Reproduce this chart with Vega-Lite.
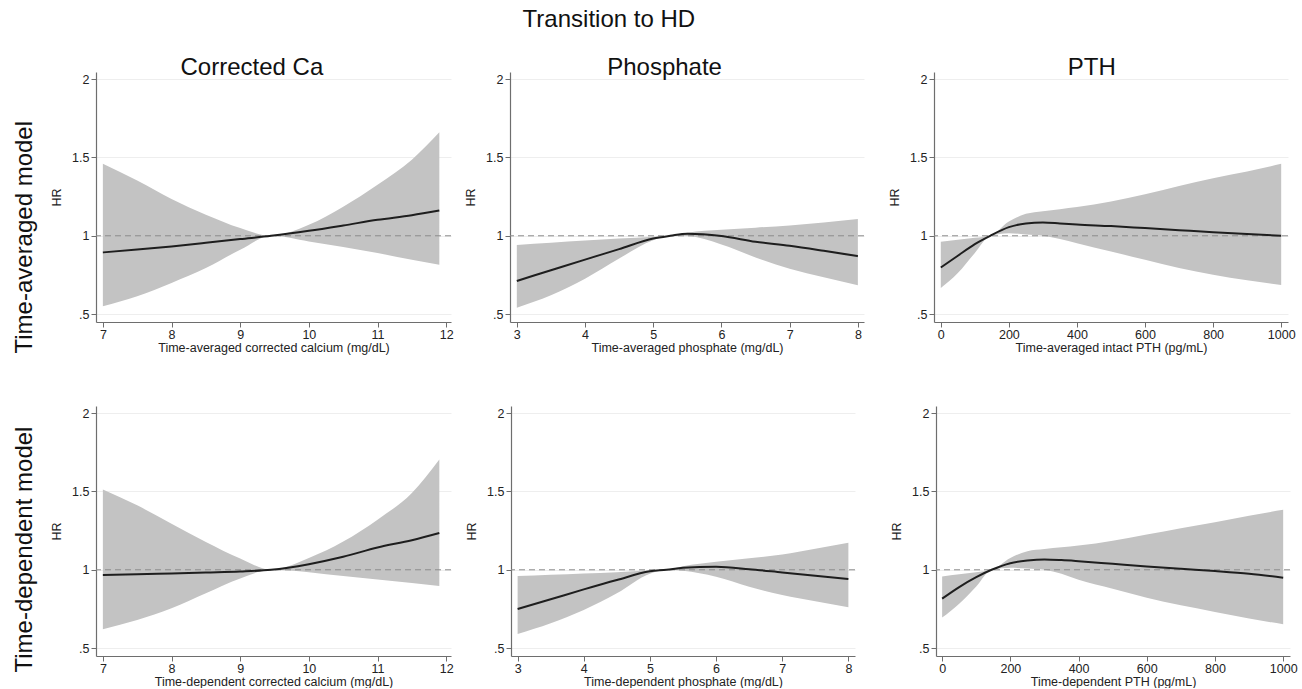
{
  "$schema": "https://vega.github.io/schema/vega-lite/v6.json",
  "padding": {"left": 12, "top": 8, "right": 0, "bottom": 0},
  "background": "white",
  "title": {"text": "Transition to HD", "fontSize": 24, "anchor": "middle", "frame": "bounds", "dx": -46, "offset": 24},
  "data": {"values": [
    {"m": "A", "v": "Ca", "x": 7.0, "hr": 0.894, "lo": 0.55, "hi": 1.459},
    {"m": "A", "v": "Ca", "x": 7.5, "hr": 0.912, "lo": 0.614, "hi": 1.352},
    {"m": "A", "v": "Ca", "x": 8.0, "hr": 0.932, "lo": 0.699, "hi": 1.234},
    {"m": "A", "v": "Ca", "x": 8.5, "hr": 0.955, "lo": 0.794, "hi": 1.134},
    {"m": "A", "v": "Ca", "x": 9.0, "hr": 0.979, "lo": 0.911, "hi": 1.049},
    {"m": "A", "v": "Ca", "x": 9.45, "hr": 1.0, "lo": 1.0, "hi": 1.0},
    {"m": "A", "v": "Ca", "x": 10.0, "hr": 1.032, "lo": 0.964, "hi": 1.07},
    {"m": "A", "v": "Ca", "x": 10.5, "hr": 1.066, "lo": 0.928, "hi": 1.185},
    {"m": "A", "v": "Ca", "x": 11.0, "hr": 1.102, "lo": 0.89, "hi": 1.325},
    {"m": "A", "v": "Ca", "x": 11.5, "hr": 1.131, "lo": 0.847, "hi": 1.485},
    {"m": "A", "v": "Ca", "x": 11.9, "hr": 1.161, "lo": 0.815, "hi": 1.66},

    {"m": "A", "v": "P", "x": 3.0, "hr": 0.712, "lo": 0.541, "hi": 0.942},
    {"m": "A", "v": "P", "x": 3.5, "hr": 0.78, "lo": 0.62, "hi": 0.956},
    {"m": "A", "v": "P", "x": 4.0, "hr": 0.848, "lo": 0.726, "hi": 0.97},
    {"m": "A", "v": "P", "x": 4.5, "hr": 0.915, "lo": 0.855, "hi": 0.982},
    {"m": "A", "v": "P", "x": 5.0, "hr": 0.983, "lo": 0.972, "hi": 0.994},
    {"m": "A", "v": "P", "x": 5.25, "hr": 1.0, "lo": 1.0, "hi": 1.0},
    {"m": "A", "v": "P", "x": 5.5, "hr": 1.013, "lo": 0.998, "hi": 1.02},
    {"m": "A", "v": "P", "x": 6.0, "hr": 0.998, "lo": 0.945, "hi": 1.038},
    {"m": "A", "v": "P", "x": 6.5, "hr": 0.962, "lo": 0.862, "hi": 1.052},
    {"m": "A", "v": "P", "x": 7.0, "hr": 0.936, "lo": 0.79, "hi": 1.066},
    {"m": "A", "v": "P", "x": 7.5, "hr": 0.904, "lo": 0.735, "hi": 1.085},
    {"m": "A", "v": "P", "x": 8.0, "hr": 0.87, "lo": 0.684, "hi": 1.107},

    {"m": "A", "v": "PTH", "x": 0, "hr": 0.798, "lo": 0.667, "hi": 0.962},
    {"m": "A", "v": "PTH", "x": 50, "hr": 0.873, "lo": 0.762, "hi": 0.975},
    {"m": "A", "v": "PTH", "x": 100, "hr": 0.947, "lo": 0.89, "hi": 0.987},
    {"m": "A", "v": "PTH", "x": 145, "hr": 1.0, "lo": 1.0, "hi": 1.0},
    {"m": "A", "v": "PTH", "x": 200, "hr": 1.055, "lo": 1.017, "hi": 1.091},
    {"m": "A", "v": "PTH", "x": 250, "hr": 1.079, "lo": 1.008, "hi": 1.14},
    {"m": "A", "v": "PTH", "x": 300, "hr": 1.085, "lo": 1.0, "hi": 1.157},
    {"m": "A", "v": "PTH", "x": 350, "hr": 1.079, "lo": 0.979, "hi": 1.17},
    {"m": "A", "v": "PTH", "x": 400, "hr": 1.072, "lo": 0.953, "hi": 1.183},
    {"m": "A", "v": "PTH", "x": 500, "hr": 1.062, "lo": 0.9, "hi": 1.219},
    {"m": "A", "v": "PTH", "x": 600, "hr": 1.049, "lo": 0.847, "hi": 1.265},
    {"m": "A", "v": "PTH", "x": 700, "hr": 1.036, "lo": 0.794, "hi": 1.318},
    {"m": "A", "v": "PTH", "x": 800, "hr": 1.023, "lo": 0.752, "hi": 1.367},
    {"m": "A", "v": "PTH", "x": 900, "hr": 1.011, "lo": 0.716, "hi": 1.41},
    {"m": "A", "v": "PTH", "x": 1000, "hr": 1.0, "lo": 0.686, "hi": 1.459},

    {"m": "D", "v": "Ca", "x": 7.0, "hr": 0.966, "lo": 0.621, "hi": 1.513},
    {"m": "D", "v": "Ca", "x": 7.5, "hr": 0.971, "lo": 0.68, "hi": 1.411},
    {"m": "D", "v": "Ca", "x": 8.0, "hr": 0.977, "lo": 0.754, "hi": 1.294},
    {"m": "D", "v": "Ca", "x": 8.5, "hr": 0.983, "lo": 0.85, "hi": 1.178},
    {"m": "D", "v": "Ca", "x": 9.0, "hr": 0.989, "lo": 0.945, "hi": 1.072},
    {"m": "D", "v": "Ca", "x": 9.45, "hr": 1.0, "lo": 1.0, "hi": 1.0},
    {"m": "D", "v": "Ca", "x": 10.0, "hr": 1.036, "lo": 0.985, "hi": 1.075},
    {"m": "D", "v": "Ca", "x": 10.5, "hr": 1.083, "lo": 0.96, "hi": 1.18},
    {"m": "D", "v": "Ca", "x": 11.0, "hr": 1.142, "lo": 0.938, "hi": 1.32},
    {"m": "D", "v": "Ca", "x": 11.5, "hr": 1.189, "lo": 0.915, "hi": 1.49},
    {"m": "D", "v": "Ca", "x": 11.9, "hr": 1.235, "lo": 0.896, "hi": 1.703},

    {"m": "D", "v": "P", "x": 3.0, "hr": 0.75, "lo": 0.591, "hi": 0.96},
    {"m": "D", "v": "P", "x": 3.5, "hr": 0.812, "lo": 0.659, "hi": 0.968},
    {"m": "D", "v": "P", "x": 4.0, "hr": 0.875, "lo": 0.744, "hi": 0.977},
    {"m": "D", "v": "P", "x": 4.5, "hr": 0.935, "lo": 0.85, "hi": 0.985},
    {"m": "D", "v": "P", "x": 5.0, "hr": 0.99, "lo": 0.975, "hi": 0.997},
    {"m": "D", "v": "P", "x": 5.25, "hr": 1.0, "lo": 1.0, "hi": 1.0},
    {"m": "D", "v": "P", "x": 5.5, "hr": 1.013, "lo": 0.994, "hi": 1.023},
    {"m": "D", "v": "P", "x": 6.0, "hr": 1.019, "lo": 0.956, "hi": 1.051},
    {"m": "D", "v": "P", "x": 6.5, "hr": 1.004, "lo": 0.892, "hi": 1.074},
    {"m": "D", "v": "P", "x": 7.0, "hr": 0.983, "lo": 0.839, "hi": 1.097},
    {"m": "D", "v": "P", "x": 7.5, "hr": 0.962, "lo": 0.8, "hi": 1.134},
    {"m": "D", "v": "P", "x": 8.0, "hr": 0.941, "lo": 0.761, "hi": 1.172},

    {"m": "D", "v": "PTH", "x": 0, "hr": 0.816, "lo": 0.695, "hi": 0.958},
    {"m": "D", "v": "PTH", "x": 50, "hr": 0.89, "lo": 0.784, "hi": 0.972},
    {"m": "D", "v": "PTH", "x": 100, "hr": 0.953, "lo": 0.894, "hi": 0.985},
    {"m": "D", "v": "PTH", "x": 145, "hr": 1.0, "lo": 1.0, "hi": 1.0},
    {"m": "D", "v": "PTH", "x": 200, "hr": 1.042, "lo": 1.013, "hi": 1.076},
    {"m": "D", "v": "PTH", "x": 250, "hr": 1.059, "lo": 1.008, "hi": 1.119},
    {"m": "D", "v": "PTH", "x": 300, "hr": 1.066, "lo": 1.0, "hi": 1.133},
    {"m": "D", "v": "PTH", "x": 350, "hr": 1.062, "lo": 0.975, "hi": 1.144},
    {"m": "D", "v": "PTH", "x": 400, "hr": 1.055, "lo": 0.936, "hi": 1.155},
    {"m": "D", "v": "PTH", "x": 500, "hr": 1.038, "lo": 0.879, "hi": 1.186},
    {"m": "D", "v": "PTH", "x": 600, "hr": 1.021, "lo": 0.822, "hi": 1.225},
    {"m": "D", "v": "PTH", "x": 700, "hr": 1.006, "lo": 0.773, "hi": 1.265},
    {"m": "D", "v": "PTH", "x": 800, "hr": 0.992, "lo": 0.731, "hi": 1.303},
    {"m": "D", "v": "PTH", "x": 900, "hr": 0.975, "lo": 0.689, "hi": 1.345},
    {"m": "D", "v": "PTH", "x": 1000, "hr": 0.949, "lo": 0.653, "hi": 1.383}
  ]},
  "spacing": 52,
  "vconcat": [
    {
      "title": {"text": "Time-averaged model", "orient": "left", "fontSize": 24, "offset": 14},
      "spacing": 10,
      "hconcat": [
        {
          "width": 355, "height": 250,
          "title": {"text": "Corrected Ca", "fontSize": 24, "frame": "bounds", "offset": -8},
          "transform": [{"filter": "datum.m == 'A' && datum.v == 'Ca'"}],
          "layer": [
            {"mark": {"type": "area", "color": "#c3c3c3", "interpolate": "monotone"},
             "encoding": {
               "x": {"field": "x", "type": "quantitative", "scale": {"domain": [6.9, 12.07], "nice": false, "zero": false},
                     "axis": {"title": "Time-averaged corrected calcium (mg/dL)", "values": [7, 8, 9, 10, 11, 12], "format": "d", "grid": false}},
               "y": {"field": "lo", "type": "quantitative", "scale": {"domain": [0.45, 2.045], "nice": false, "zero": false},
                     "axis": {"title": "HR", "values": [0.5, 1, 1.5, 2], "labelExpr": "datum.value == 0.5 ? '.5' : toString(datum.value)", "grid": true}},
               "y2": {"field": "hi"}}},
            {"data": {"values": [{}]}, "mark": {"type": "rule", "color": "#8c8c8c", "strokeDash": [6, 4], "strokeWidth": 1}, "encoding": {"y": {"datum": 1}}},
            {"mark": {"type": "line", "color": "#1e1e1e", "strokeWidth": 2, "interpolate": "monotone"},
             "encoding": {"x": {"field": "x", "type": "quantitative"}, "y": {"field": "hr", "type": "quantitative"}}}
          ]
        },
        {
          "spacing": 23,
          "hconcat": [
            {
              "width": 354, "height": 250,
              "title": {"text": "Phosphate", "fontSize": 24, "frame": "bounds", "offset": -8},
              "transform": [{"filter": "datum.m == 'A' && datum.v == 'P'"}],
              "layer": [
                {"mark": {"type": "area", "color": "#c3c3c3", "interpolate": "monotone"},
                 "encoding": {
                   "x": {"field": "x", "type": "quantitative", "scale": {"domain": [2.9, 8.09], "nice": false, "zero": false},
                         "axis": {"title": "Time-averaged phosphate (mg/dL)", "values": [3, 4, 5, 6, 7, 8], "format": "d", "grid": false}},
                   "y": {"field": "lo", "type": "quantitative", "scale": {"domain": [0.45, 2.045], "nice": false, "zero": false},
                         "axis": {"title": "HR", "values": [0.5, 1, 1.5, 2], "labelExpr": "datum.value == 0.5 ? '.5' : toString(datum.value)", "grid": true}},
                   "y2": {"field": "hi"}}},
                {"data": {"values": [{}]}, "mark": {"type": "rule", "color": "#8c8c8c", "strokeDash": [6, 4], "strokeWidth": 1}, "encoding": {"y": {"datum": 1}}},
                {"mark": {"type": "line", "color": "#1e1e1e", "strokeWidth": 2, "interpolate": "monotone"},
                 "encoding": {"x": {"field": "x", "type": "quantitative"}, "y": {"field": "hr", "type": "quantitative"}}}
              ]
            },
            {
              "width": 354, "height": 250,
              "title": {"text": "PTH", "fontSize": 24, "frame": "bounds", "offset": -8},
              "transform": [{"filter": "datum.m == 'A' && datum.v == 'PTH'"}],
              "layer": [
                {"mark": {"type": "area", "color": "#c3c3c3", "interpolate": "monotone"},
                 "encoding": {
                   "x": {"field": "x", "type": "quantitative", "scale": {"domain": [-20, 1020], "nice": false, "zero": false},
                         "axis": {"title": "Time-averaged intact PTH (pg/mL)", "values": [0, 200, 400, 600, 800, 1000], "format": "d", "grid": false}},
                   "y": {"field": "lo", "type": "quantitative", "scale": {"domain": [0.45, 2.045], "nice": false, "zero": false},
                         "axis": {"title": "HR", "values": [0.5, 1, 1.5, 2], "labelExpr": "datum.value == 0.5 ? '.5' : toString(datum.value)", "grid": true}},
                   "y2": {"field": "hi"}}},
                {"data": {"values": [{}]}, "mark": {"type": "rule", "color": "#8c8c8c", "strokeDash": [6, 4], "strokeWidth": 1}, "encoding": {"y": {"datum": 1}}},
                {"mark": {"type": "line", "color": "#1e1e1e", "strokeWidth": 2, "interpolate": "monotone"},
                 "encoding": {"x": {"field": "x", "type": "quantitative"}, "y": {"field": "hr", "type": "quantitative"}}}
              ]
            }
          ]
        }
      ]
    },
    {
      "title": {"text": "Time-dependent model", "orient": "left", "fontSize": 24, "offset": 14, "dx": 15},
      "spacing": 11,
      "hconcat": [
        {
          "width": 355, "height": 250,
          "transform": [{"filter": "datum.m == 'D' && datum.v == 'Ca'"}],
          "layer": [
            {"mark": {"type": "area", "color": "#c3c3c3", "interpolate": "monotone"},
             "encoding": {
               "x": {"field": "x", "type": "quantitative", "scale": {"domain": [6.9, 12.07], "nice": false, "zero": false},
                     "axis": {"title": "Time-dependent corrected calcium (mg/dL)", "values": [7, 8, 9, 10, 11, 12], "format": "d", "grid": false}},
               "y": {"field": "lo", "type": "quantitative", "scale": {"domain": [0.45, 2.045], "nice": false, "zero": false},
                     "axis": {"title": "HR", "values": [0.5, 1, 1.5, 2], "labelExpr": "datum.value == 0.5 ? '.5' : toString(datum.value)", "grid": true}},
               "y2": {"field": "hi"}}},
            {"data": {"values": [{}]}, "mark": {"type": "rule", "color": "#8c8c8c", "strokeDash": [6, 4], "strokeWidth": 1}, "encoding": {"y": {"datum": 1}}},
            {"mark": {"type": "line", "color": "#1e1e1e", "strokeWidth": 2, "interpolate": "monotone"},
             "encoding": {"x": {"field": "x", "type": "quantitative"}, "y": {"field": "hr", "type": "quantitative"}}}
          ]
        },
        {
          "spacing": 34,
          "hconcat": [
            {
              "width": 344, "height": 250,
              "transform": [{"filter": "datum.m == 'D' && datum.v == 'P'"}],
              "layer": [
                {"mark": {"type": "area", "color": "#c3c3c3", "interpolate": "monotone"},
                 "encoding": {
                   "x": {"field": "x", "type": "quantitative", "scale": {"domain": [2.9, 8.1], "nice": false, "zero": false},
                         "axis": {"title": "Time-dependent phosphate (mg/dL)", "values": [3, 4, 5, 6, 7, 8], "format": "d", "grid": false}},
                   "y": {"field": "lo", "type": "quantitative", "scale": {"domain": [0.45, 2.045], "nice": false, "zero": false},
                         "axis": {"title": "HR", "values": [0.5, 1, 1.5, 2], "labelExpr": "datum.value == 0.5 ? '.5' : toString(datum.value)", "grid": true}},
                   "y2": {"field": "hi"}}},
                {"data": {"values": [{}]}, "mark": {"type": "rule", "color": "#8c8c8c", "strokeDash": [6, 4], "strokeWidth": 1}, "encoding": {"y": {"datum": 1}}},
                {"mark": {"type": "line", "color": "#1e1e1e", "strokeWidth": 2, "interpolate": "monotone"},
                 "encoding": {"x": {"field": "x", "type": "quantitative"}, "y": {"field": "hr", "type": "quantitative"}}}
              ]
            },
            {
              "width": 354, "height": 250,
              "transform": [{"filter": "datum.m == 'D' && datum.v == 'PTH'"}],
              "layer": [
                {"mark": {"type": "area", "color": "#c3c3c3", "interpolate": "monotone"},
                 "encoding": {
                   "x": {"field": "x", "type": "quantitative", "scale": {"domain": [-18, 1020], "nice": false, "zero": false},
                         "axis": {"title": "Time-dependent PTH (pg/mL)", "values": [0, 200, 400, 600, 800, 1000], "format": "d", "grid": false}},
                   "y": {"field": "lo", "type": "quantitative", "scale": {"domain": [0.45, 2.045], "nice": false, "zero": false},
                         "axis": {"title": "HR", "values": [0.5, 1, 1.5, 2], "labelExpr": "datum.value == 0.5 ? '.5' : toString(datum.value)", "grid": true}},
                   "y2": {"field": "hi"}}},
                {"data": {"values": [{}]}, "mark": {"type": "rule", "color": "#8c8c8c", "strokeDash": [6, 4], "strokeWidth": 1}, "encoding": {"y": {"datum": 1}}},
                {"mark": {"type": "line", "color": "#1e1e1e", "strokeWidth": 2, "interpolate": "monotone"},
                 "encoding": {"x": {"field": "x", "type": "quantitative"}, "y": {"field": "hr", "type": "quantitative"}}}
              ]
            }
          ]
        }
      ]
    }
  ],
  "config": {
    "font": "Liberation Sans",
    "view": {"stroke": null},
    "axis": {
      "labelFont": "Liberation Sans", "titleFont": "Liberation Sans",
      "labelFontSize": 12.5, "titleFontSize": 12.5, "titleFontWeight": "normal",
      "labelColor": "#222222", "titleColor": "#222222",
      "domainColor": "#6e6e6e", "tickColor": "#6e6e6e", "domainWidth": 1.2, "tickWidth": 1,
      "tickSize": 5, "gridColor": "#eeeeee", "gridWidth": 1
    },
    "axisX": {"labelPadding": 1, "titlePadding": 0.5},
    "axisY": {"labelPadding": 2, "titlePadding": 8},
    "title": {"font": "Liberation Sans", "fontWeight": "normal", "color": "#111111"}
  }
}
